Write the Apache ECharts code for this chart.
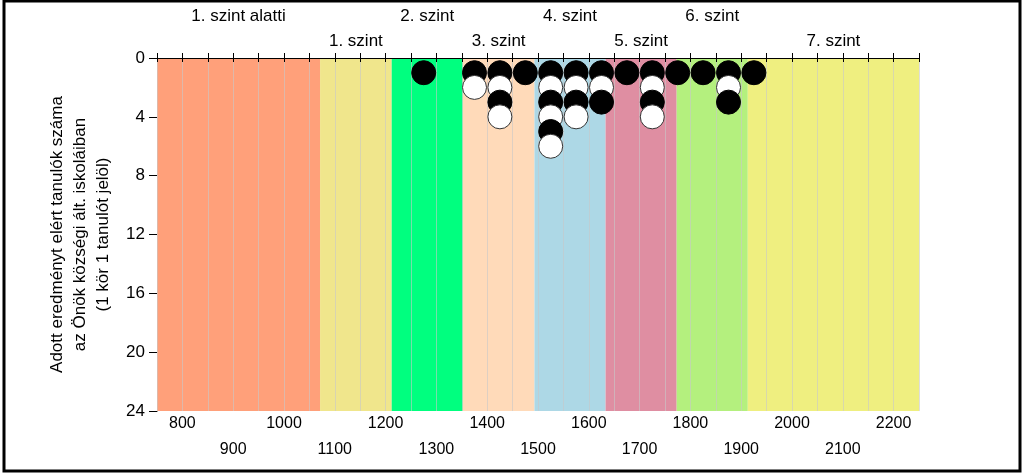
<!DOCTYPE html>
<html>
<head>
<meta charset="utf-8">
<script src="https://cdn.jsdelivr.net/npm/echarts@6/dist/echarts.min.js"></script>
<style>
  html, body { margin: 0; padding: 0; background: #fff; }
  #chart { width: 1023px; height: 475px; }
</style>
</head>
<body>
<div id="chart"></div>
<script>
// pontszám-sávok közepe (50 pontos sávok) és a tanulók száma
var bins = [1275, 1375, 1425, 1475, 1525, 1575, 1625, 1675, 1725, 1775, 1825, 1875, 1925];
var counts = [1, 2, 4, 1, 6, 4, 3, 1, 4, 1, 1, 3, 1];

// képességszintek
var levelNames = ['1. szint alatti', '1. szint', '2. szint', '3. szint', '4. szint', '5. szint', '6. szint', '7. szint'];
var levelLimits = [750, 1071, 1212, 1352, 1493, 1633, 1773, 1913, 2250];
var levelColors = ['#FFA07A', '#F0E68C', '#00FF7F', '#FFDAB9', '#ADD8E6', '#DF8EA2', '#B4F07E', '#EFEF80'];

// tengelyfeliratok
var xLabelsUpper = [800, 1000, 1200, 1400, 1600, 1800, 2000, 2200];
var xLabelsLower = [900, 1100, 1300, 1500, 1700, 1900, 2100];
var yTicks = [0, 4, 8, 12, 16, 20, 24];

var FONT = 'Liberation Sans, Arial, sans-serif';

// egy kör = egy tanuló, sorok váltakozva fekete / fehér
var dots = [];
for (var i = 0; i < bins.length; i++) {
  for (var k = 1; k <= counts[i]; k++) {
    dots.push({
      value: [bins[i], k],
      itemStyle: k % 2 === 1
        ? { color: '#000', borderColor: '#000', borderWidth: 1, opacity: 1 }
        : { color: '#fff', borderColor: '#333', borderWidth: 1, opacity: 1 }
    });
  }
}

var areas = [];
for (var j = 0; j < levelNames.length; j++) {
  areas.push([
    {
      xAxis: levelLimits[j],
      itemStyle: { color: levelColors[j], opacity: 1 },
      label: {
        show: true,
        position: 'top',
        distance: j % 2 === 0 ? 33 : 8,
        formatter: levelNames[j],
        color: '#000',
        fontSize: 17,
        fontFamily: FONT
      }
    },
    { xAxis: levelLimits[j + 1] }
  ]);
}

var chart = echarts.init(document.getElementById('chart'));
chart.setOption({
  animation: false,
  grid: { left: 157, right: 104, top: 58, bottom: 64 },
  xAxis: [
    {
      type: 'value',
      position: 'bottom',
      min: 750,
      max: 2250,
      interval: 50,
      z: 2,
      axisLine: { show: true, lineStyle: { color: '#000', width: 1 } },
      axisTick: { show: true, length: 4, lineStyle: { color: '#000' } },
      splitLine: { show: true, lineStyle: { color: 'rgba(200,200,200,0.6)', width: 1 } },
      axisLabel: {
        color: '#000',
        fontSize: 16,
        fontFamily: FONT,
        lineHeight: 26,
        margin: 0,
        formatter: function (v) {
          if (xLabelsUpper.indexOf(v) >= 0) return String(v);
          if (xLabelsLower.indexOf(v) >= 0) return '\n' + v;
          return '';
        }
      }
    },
    {
      type: 'value',
      position: 'top',
      min: 750,
      max: 2250,
      interval: 50,
      z: 2,
      axisLine: { show: true, lineStyle: { color: '#000', width: 1 } },
      axisTick: { show: true, length: 5, lineStyle: { color: '#000' } },
      splitLine: { show: false },
      axisLabel: { show: false }
    }
  ],
  yAxis: {
    type: 'value',
    inverse: true,
    min: yTicks[0],
    max: yTicks[yTicks.length - 1],
    interval: 4,
    axisLine: { show: true, lineStyle: { color: '#000', width: 1 } },
    axisTick: { show: true, length: 8, lineStyle: { color: '#000' } },
    splitLine: { show: false },
    axisLabel: { color: '#000', fontSize: 17, fontFamily: FONT, margin: 12 },
    name: 'Adott eredményt elért tanulók száma\naz Önök községi ált. iskoláiban\n(1 kör 1 tanulót jelöl)',
    nameLocation: 'middle',
    nameRotate: 90,
    nameGap: 42,
    nameTextStyle: { color: '#000', fontSize: 17, fontFamily: FONT, lineHeight: 23, align: 'center' }
  },
  series: [
    {
      type: 'scatter',
      name: 'szintek',
      z: 1,
      silent: true,
      data: [],
      markArea: { silent: true, data: areas }
    },
    {
      type: 'scatter',
      name: 'tanulók',
      z: 3,
      symbol: 'circle',
      symbolSize: 24,
      itemStyle: { opacity: 1 },
      data: dots
    }
  ],
  graphic: [
    {
      type: 'rect',
      z: 10,
      silent: true,
      shape: { x: 4, y: 1, width: 1016, height: 470 },
      style: { fill: null, stroke: '#000', lineWidth: 3 }
    }
  ]
});
</script>
</body>
</html>
